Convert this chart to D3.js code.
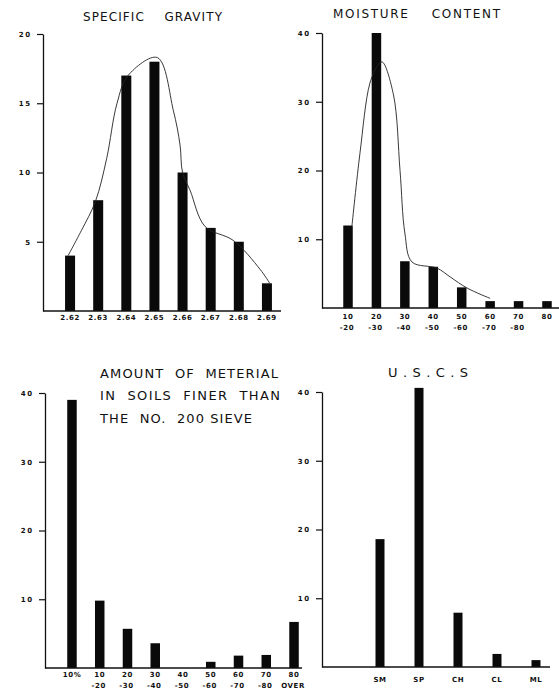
<!DOCTYPE html>
<html>
<head>
<meta charset="utf-8">
<script src="https://cdn.jsdelivr.net/npm/d3@7"></script>
<style>
  body { margin: 0; background: #fff; }
  svg { display: block; }
  text { font-family: "DejaVu Sans", sans-serif; fill: #111; }
</style>
</head>
<body>
<svg id="chart"></svg>
<script>
var width = 559, height = 694;

// Specific gravity
var sgCats = ["2.62", "2.63", "2.64", "2.65", "2.66", "2.67", "2.68", "2.69"];
var sgValues = [4, 8, 17, 18, 10, 6, 5, 2];
var sgTicks = [5, 10, 15, 20];
// hand drawn curve, [category index, value]
var sgCurve = [[-0.07, 4], [0.4, 5.8], [0.9, 7.9], [1.3, 11], [1.67, 15], [2.06, 17],
  [3.1, 18.3], [3.67, 14.5], [3.91, 12], [4.0, 10], [4.27, 8.7], [4.8, 6.1],
  [5.8, 5.1], [6.76, 3], [7.1, 2]];

// Moisture content
var mcCats = ["10-20", "20-30", "30-40", "40-50", "50-60", "60-70", "70-80", "80"];
var mcLabels1 = ["10", "20", "30", "40", "50", "60", "70", "80"];
var mcLabels2 = ["-20", "-30", "-40", "-50", "-60", "-70", "-80", ""];
var mcValues = [12, 40, 6.8, 6, 3, 1, 1, 1];
var mcTicks = [10, 20, 30, 40];
var mcCurve = [[0.14, 12], [0.42, 22.5], [0.77, 32.7], [1.05, 35.3], [1.2, 35.8],
  [1.6, 31], [1.83, 20], [2.0, 10.9], [2.25, 6.7], [3.13, 5.8], [3.6, 4.5],
  [4.19, 2.9], [5.0, 1.4]];

// Material finer than No. 200 sieve
var fnCats = ["10%", "10-20", "20-30", "30-40", "40-50", "50-60", "60-70", "70-80", "80 over"];
var fnLabels1 = ["10%", "10", "20", "30", "40", "50", "60", "70", "80"];
var fnLabels2 = ["", "-20", "-30", "-40", "-50", "-60", "-70", "-80", "OVER"];
var fnValues = [39, 9.8, 5.7, 3.6, 0, 0.9, 1.8, 1.9, 6.7];
var fnTicks = [10, 20, 30, 40];

// U.S.C.S.
var usCats = ["SM", "SP", "CH", "CL", "ML"];
var usValues = [18.6, 40.6, 7.9, 1.9, 1.0];
var usTicks = [10, 20, 30, 40];

var svg = d3.select("#chart")
  .attr("width", width)
  .attr("height", height);

function drawPanel(o) {
  var g = svg.append("g");
  var x = d3.scaleBand().domain(o.cats).range(o.xRange);
  var y = d3.scaleLinear().domain([0, o.yMax]).range(o.yRange);

  // bars
  g.selectAll("rect.bar")
    .data(o.values)
    .enter()
    .append("rect")
    .attr("class", "bar")
    .attr("x", function (d, i) { return x(o.cats[i]) + x.bandwidth() / 2 - o.bw / 2; })
    .attr("y", function (d) { return y(d); })
    .attr("width", o.bw)
    .attr("height", function (d) { return y(0) - y(d); })
    .attr("fill", "#0a0a0a");

  // y axis
  var yAxis = d3.axisLeft(y)
    .tickValues(o.ticks)
    .tickSize(6)
    .tickSizeOuter(0)
    .tickPadding(5)
    .tickFormat(d3.format("d"));
  var ag = g.append("g")
    .attr("transform", "translate(" + o.axisX + ",0)")
    .call(yAxis);
  ag.select(".domain").attr("stroke", "#111").attr("stroke-width", 1.3);
  ag.selectAll(".tick line").attr("stroke", "#111").attr("stroke-width", 1.2);
  ag.selectAll(".tick text")
    .style("font-family", "'DejaVu Sans', sans-serif")
    .style("font-size", "7px")
    .style("font-weight", "bold")
    .style("letter-spacing", "1.8px")
    .attr("fill", "#111");

  // baseline
  g.append("line")
    .attr("x1", o.axisX).attr("x2", o.baseEnd)
    .attr("y1", y(0)).attr("y2", y(0))
    .attr("stroke", "#111").attr("stroke-width", 1.4);

  // category labels
  var c = function (i) { return x(o.cats[i]) + x.bandwidth() / 2; };
  g.selectAll("text.l1")
    .data(o.labels1)
    .enter()
    .append("text")
    .attr("class", "l1")
    .attr("x", function (d, i) { return c(i); })
    .attr("y", y(0) + o.labelDy)
    .attr("text-anchor", "middle")
    .style("font-size", "7px")
    .style("font-weight", "bold")
    .style("letter-spacing", "0.6px")
    .text(function (d) { return d; });
  if (o.labels2) {
    g.selectAll("text.l2")
      .data(o.labels2)
      .enter()
      .append("text")
      .attr("class", "l2")
      .attr("x", function (d, i) { return c(i) - 1; })
      .attr("y", y(0) + o.labelDy + 11)
      .attr("text-anchor", "middle")
      .style("font-size", "7px")
      .style("font-weight", "bold")
      .style("letter-spacing", "0.6px")
      .text(function (d) { return d; });
  }

  // smooth curve
  if (o.curve) {
    var xi = d3.scaleLinear().domain([0, 1]).range([c(0), c(1)]);
    var line = d3.line()
      .x(function (d) { return xi(d[0]); })
      .y(function (d) { return y(d[1]); })
      .curve(d3.curveCatmullRom.alpha(0.5));
    g.append("path")
      .attr("d", line(o.curve))
      .attr("fill", "none")
      .attr("stroke", "#222")
      .attr("stroke-width", 0.9);
  }
}

drawPanel({ cats: sgCats, values: sgValues, labels1: sgCats, ticks: sgTicks, yMax: 20,
  xRange: [56, 281], yRange: [311, 34], axisX: 43, baseEnd: 281, bw: 10,
  labelDy: 9, curve: sgCurve });

drawPanel({ cats: mcCats, values: mcValues, labels1: mcLabels1, labels2: mcLabels2,
  ticks: mcTicks, yMax: 40, xRange: [333.8, 561.2], yRange: [308, 33], axisX: 322,
  baseEnd: 559, bw: 9.5, labelDy: 11, curve: mcCurve });

drawPanel({ cats: fnCats, values: fnValues, labels1: fnLabels1, labels2: fnLabels2,
  ticks: fnTicks, yMax: 40, xRange: [58.1, 307.9], yRange: [668, 393], axisX: 45,
  baseEnd: 302, bw: 9.5, labelDy: 9 });

drawPanel({ cats: usCats, values: usValues, labels1: usCats, ticks: usTicks, yMax: 40,
  xRange: [360.5, 555.5], yRange: [667, 392], axisX: 322, baseEnd: 550, bw: 9,
  labelDy: 15 });

// titles
function title(str, x0, x1, y, size) {
  svg.append("text")
    .attr("x", x0)
    .attr("y", y)
    .attr("textLength", x1 - x0)
    .attr("lengthAdjust", "spacing")
    .attr("xml:space", "preserve")
    .style("font-size", size + "px")
    .text(str);
}
title("SPECIFIC    GRAVITY", 83, 222, 21, 12);
title("MOISTURE    CONTENT", 333, 500, 18, 12);
title("AMOUNT  OF  METERIAL", 100, 278, 378, 13);
title("IN  SOILS  FINER  THAN", 100, 280, 400, 13);
title("THE  NO.  200 SIEVE", 100, 252, 423, 13);
title("U . S . C . S", 388, 468, 377, 13);
</script>
</body>
</html>
